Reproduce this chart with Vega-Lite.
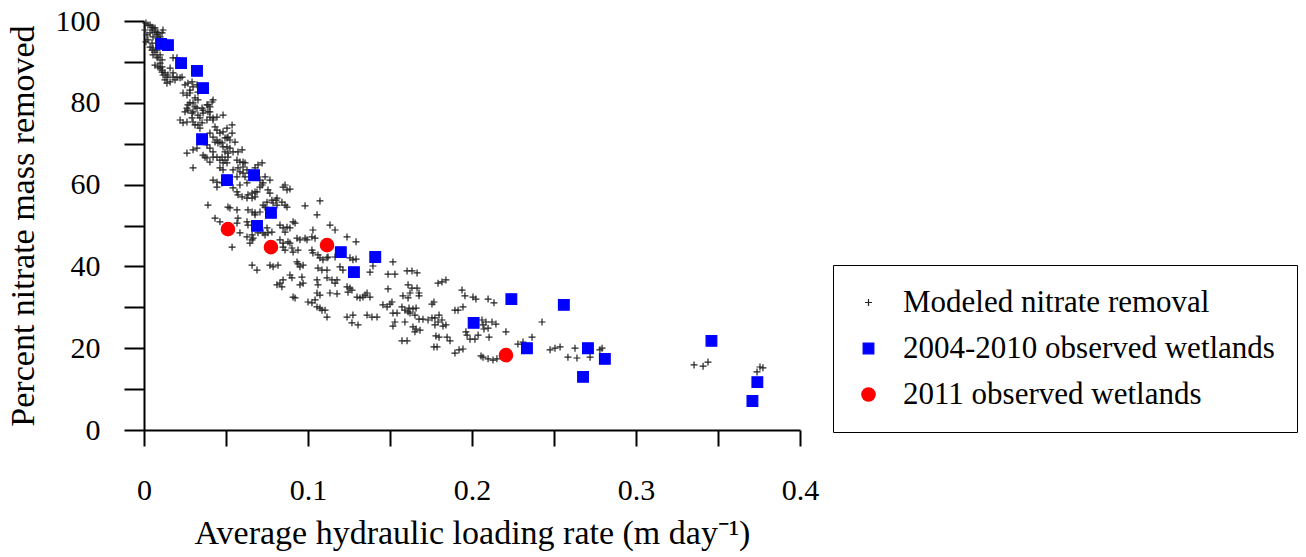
{
  "$schema": "https://vega.github.io/schema/vega-lite/v6.json",
  "width": 656,
  "height": 409,
  "autosize": {"type": "none"},
  "padding": {"left": 144, "top": 21, "right": 506, "bottom": 127},
  "background": "white",
  "config": {
    "view": {"stroke": null},
    "font": "Liberation Serif",
    "axis": {"labelFont": "Liberation Serif", "titleFont": "Liberation Serif", "labelColor": "black", "titleColor": "black", "titleFontWeight": "normal", "domainColor": "black", "tickColor": "black", "domainWidth": 2, "tickWidth": 2, "grid": false, "labelOverlap": false, "labelFlush": false}
  },
  "data": {"values": [
    {"x":0.0012,"y":99.5,"s":"m"},{"x":0.0024,"y":99.0,"s":"m"},{"x":0.0037,"y":99.0,"s":"m"},{"x":0.0049,"y":98.5,"s":"m"},{"x":0.0055,"y":98.3,"s":"m"},{"x":0.0067,"y":98.3,"s":"m"},{"x":0.0049,"y":97.8,"s":"m"},{"x":0.0037,"y":97.1,"s":"m"},{"x":0.0067,"y":97.3,"s":"m"},{"x":0.0079,"y":97.3,"s":"m"},{"x":0.0085,"y":97.1,"s":"m"},{"x":0.011,"y":97.1,"s":"m"},{"x":0.0116,"y":97.8,"s":"m"},{"x":0.0079,"y":96.6,"s":"m"},{"x":0.0098,"y":96.1,"s":"m"},{"x":0.0055,"y":96.1,"s":"m"},{"x":0.0085,"y":95.8,"s":"m"},{"x":0.0098,"y":95.4,"s":"m"},{"x":0.0049,"y":94.6,"s":"m"},{"x":0.0037,"y":93.6,"s":"m"},{"x":0.0049,"y":92.9,"s":"m"},{"x":0.0055,"y":93.4,"s":"m"},{"x":0.0067,"y":92.4,"s":"m"},{"x":0.0055,"y":91.7,"s":"m"},{"x":0.0079,"y":91.2,"s":"m"},{"x":0.0085,"y":91.0,"s":"m"},{"x":0.0098,"y":91.7,"s":"m"},{"x":0.011,"y":90.5,"s":"m"},{"x":0.0079,"y":92.9,"s":"m"},{"x":0.0098,"y":89.7,"s":"m"},{"x":0.0067,"y":89.2,"s":"m"},{"x":0.0085,"y":88.8,"s":"m"},{"x":0.0098,"y":88.5,"s":"m"},{"x":0.011,"y":88.8,"s":"m"},{"x":0.011,"y":88.0,"s":"m"},{"x":0.0128,"y":87.3,"s":"m"},{"x":0.014,"y":86.3,"s":"m"},{"x":0.0146,"y":86.8,"s":"m"},{"x":0.0116,"y":86.8,"s":"m"},{"x":0.0128,"y":85.6,"s":"m"},{"x":0.014,"y":84.8,"s":"m"},{"x":0.0159,"y":88.5,"s":"m"},{"x":0.0159,"y":85.1,"s":"m"},{"x":0.011,"y":87.5,"s":"m"},{"x":0.0018,"y":96.6,"s":"m"},{"x":0.0012,"y":94.9,"s":"m"},{"x":0.0024,"y":95.4,"s":"m"},{"x":0.0006,"y":97.8,"s":"m"},
    {"x":0.0177,"y":91.0,"s":"m"},{"x":0.0201,"y":91.0,"s":"m"},{"x":0.0177,"y":87.3,"s":"m"},{"x":0.0177,"y":86.3,"s":"m"},{"x":0.0201,"y":86.3,"s":"m"},{"x":0.022,"y":86.1,"s":"m"},{"x":0.0232,"y":86.3,"s":"m"},{"x":0.0189,"y":85.6,"s":"m"},{"x":0.025,"y":84.4,"s":"m"},{"x":0.0268,"y":84.8,"s":"m"},{"x":0.0293,"y":85.1,"s":"m"},{"x":0.0299,"y":83.9,"s":"m"},{"x":0.0323,"y":84.4,"s":"m"},{"x":0.0262,"y":81.9,"s":"m"},{"x":0.0238,"y":82.4,"s":"m"},{"x":0.028,"y":82.4,"s":"m"},{"x":0.028,"y":83.1,"s":"m"},{"x":0.0329,"y":82.6,"s":"m"},{"x":0.0311,"y":81.2,"s":"m"},{"x":0.0329,"y":80.7,"s":"m"},{"x":0.0268,"y":79.5,"s":"m"},{"x":0.028,"y":80.0,"s":"m"},{"x":0.0262,"y":78.7,"s":"m"},{"x":0.025,"y":77.8,"s":"m"},{"x":0.0299,"y":80.0,"s":"m"},{"x":0.0311,"y":79.0,"s":"m"},{"x":0.0323,"y":78.7,"s":"m"},{"x":0.0329,"y":77.0,"s":"m"},{"x":0.0341,"y":76.3,"s":"m"},{"x":0.0268,"y":78.2,"s":"m"},{"x":0.0293,"y":77.5,"s":"m"},{"x":0.022,"y":75.8,"s":"m"},{"x":0.0238,"y":75.1,"s":"m"},{"x":0.0262,"y":75.3,"s":"m"},{"x":0.0293,"y":76.3,"s":"m"},{"x":0.0299,"y":75.3,"s":"m"},{"x":0.0311,"y":74.6,"s":"m"},{"x":0.0329,"y":74.6,"s":"m"},{"x":0.0341,"y":73.8,"s":"m"},{"x":0.0299,"y":77.8,"s":"m"},{"x":0.0262,"y":67.7,"s":"m"},{"x":0.0299,"y":68.5,"s":"m"},{"x":0.0323,"y":68.9,"s":"m"},{"x":0.0299,"y":64.1,"s":"m"},
    {"x":0.0354,"y":78.7,"s":"m"},{"x":0.036,"y":78.2,"s":"m"},{"x":0.0384,"y":79.5,"s":"m"},{"x":0.0402,"y":79.0,"s":"m"},{"x":0.0402,"y":77.8,"s":"m"},{"x":0.0415,"y":80.2,"s":"m"},{"x":0.0421,"y":80.7,"s":"m"},{"x":0.0354,"y":75.1,"s":"m"},{"x":0.036,"y":77.5,"s":"m"},{"x":0.0384,"y":75.8,"s":"m"},{"x":0.039,"y":77.8,"s":"m"},{"x":0.0402,"y":76.5,"s":"m"},{"x":0.0421,"y":76.3,"s":"m"},{"x":0.0433,"y":74.1,"s":"m"},{"x":0.0445,"y":76.5,"s":"m"},{"x":0.0482,"y":77.0,"s":"m"},{"x":0.0445,"y":73.3,"s":"m"},{"x":0.0463,"y":72.6,"s":"m"},{"x":0.0482,"y":72.9,"s":"m"},{"x":0.0494,"y":71.4,"s":"m"},{"x":0.0512,"y":71.6,"s":"m"},{"x":0.0524,"y":70.9,"s":"m"},{"x":0.0433,"y":70.4,"s":"m"},{"x":0.0451,"y":70.2,"s":"m"},{"x":0.0476,"y":70.2,"s":"m"},{"x":0.0506,"y":69.2,"s":"m"},{"x":0.0524,"y":68.9,"s":"m"},{"x":0.0543,"y":68.0,"s":"m"},{"x":0.0512,"y":67.7,"s":"m"},{"x":0.0555,"y":70.4,"s":"m"},{"x":0.0402,"y":72.6,"s":"m"},{"x":0.0421,"y":71.6,"s":"m"},{"x":0.0445,"y":70.9,"s":"m"},{"x":0.0537,"y":74.6,"s":"m"},{"x":0.0537,"y":72.6,"s":"m"},{"x":0.0506,"y":73.8,"s":"m"},{"x":0.0384,"y":69.7,"s":"m"},{"x":0.0402,"y":68.9,"s":"m"},{"x":0.0421,"y":68.0,"s":"m"},{"x":0.0445,"y":66.7,"s":"m"},{"x":0.0476,"y":66.7,"s":"m"},{"x":0.0494,"y":66.0,"s":"m"},{"x":0.036,"y":67.2,"s":"m"},{"x":0.0384,"y":66.5,"s":"m"},{"x":0.0402,"y":65.5,"s":"m"},{"x":0.0482,"y":65.3,"s":"m"},{"x":0.0506,"y":65.3,"s":"m"},{"x":0.0421,"y":61.1,"s":"m"},{"x":0.0445,"y":60.6,"s":"m"},{"x":0.0476,"y":60.4,"s":"m"},{"x":0.0463,"y":64.1,"s":"m"},{"x":0.0482,"y":63.6,"s":"m"},{"x":0.0421,"y":66.7,"s":"m"},{"x":0.0482,"y":69.2,"s":"m"},{"x":0.0494,"y":68.0,"s":"m"},{"x":0.039,"y":55.0,"s":"m"},{"x":0.0512,"y":54.5,"s":"m"},{"x":0.0433,"y":51.8,"s":"m"},{"x":0.0463,"y":50.9,"s":"m"},{"x":0.0445,"y":59.4,"s":"m"},
    {"x":0.039,"y":79.5,"s":"m"},{"x":0.0421,"y":75.8,"s":"m"},{"x":0.0463,"y":70.4,"s":"m"},{"x":0.0506,"y":71.4,"s":"m"},{"x":0.0512,"y":66.7,"s":"m"},{"x":0.0463,"y":66.0,"s":"m"},{"x":0.0372,"y":66.7,"s":"m"},{"x":0.0524,"y":54.3,"s":"m"},
    {"x":0.0573,"y":68.0,"s":"m"},{"x":0.0598,"y":68.5,"s":"m"},{"x":0.0604,"y":65.5,"s":"m"},{"x":0.0567,"y":66.0,"s":"m"},{"x":0.0543,"y":63.6,"s":"m"},{"x":0.0567,"y":61.9,"s":"m"},{"x":0.0573,"y":64.1,"s":"m"},{"x":0.0585,"y":63.1,"s":"m"},{"x":0.0616,"y":61.9,"s":"m"},{"x":0.0628,"y":63.6,"s":"m"},{"x":0.0646,"y":62.8,"s":"m"},{"x":0.0689,"y":61.9,"s":"m"},{"x":0.0695,"y":64.8,"s":"m"},{"x":0.072,"y":65.3,"s":"m"},{"x":0.0677,"y":64.1,"s":"m"},{"x":0.0628,"y":60.4,"s":"m"},{"x":0.0585,"y":59.9,"s":"m"},{"x":0.0543,"y":59.2,"s":"m"},{"x":0.0567,"y":58.2,"s":"m"},{"x":0.0598,"y":57.0,"s":"m"},{"x":0.0634,"y":57.5,"s":"m"},{"x":0.0659,"y":57.9,"s":"m"},{"x":0.0567,"y":53.8,"s":"m"},{"x":0.0634,"y":53.8,"s":"m"},{"x":0.0659,"y":53.3,"s":"m"},{"x":0.0707,"y":53.3,"s":"m"},{"x":0.0573,"y":51.8,"s":"m"},{"x":0.0567,"y":50.6,"s":"m"},{"x":0.0628,"y":50.9,"s":"m"},{"x":0.0585,"y":48.2,"s":"m"},{"x":0.0628,"y":47.2,"s":"m"},{"x":0.0659,"y":47.7,"s":"m"},{"x":0.0695,"y":48.2,"s":"m"},{"x":0.0646,"y":45.7,"s":"m"},{"x":0.0537,"y":44.7,"s":"m"},{"x":0.0689,"y":58.2,"s":"m"},{"x":0.0677,"y":57.0,"s":"m"},{"x":0.0665,"y":46.9,"s":"m"},{"x":0.0659,"y":40.3,"s":"m"},{"x":0.0689,"y":39.1,"s":"m"},{"x":0.0707,"y":61.1,"s":"m"},{"x":0.0726,"y":60.4,"s":"m"},
    {"x":0.0585,"y":65.5,"s":"m"},{"x":0.0616,"y":65.3,"s":"m"},{"x":0.0604,"y":62.8,"s":"m"},{"x":0.0604,"y":64.3,"s":"m"},{"x":0.0573,"y":57.5,"s":"m"},{"x":0.0628,"y":56.7,"s":"m"},{"x":0.0677,"y":58.2,"s":"m"},{"x":0.0677,"y":53.1,"s":"m"},{"x":0.0634,"y":50.1,"s":"m"},{"x":0.0659,"y":56.7,"s":"m"},{"x":0.0677,"y":52.6,"s":"m"},{"x":0.0659,"y":46.5,"s":"m"},
    {"x":0.0738,"y":61.9,"s":"m"},{"x":0.0768,"y":61.1,"s":"m"},{"x":0.0707,"y":59.4,"s":"m"},{"x":0.0756,"y":58.7,"s":"m"},{"x":0.0768,"y":57.9,"s":"m"},{"x":0.0848,"y":59.4,"s":"m"},{"x":0.0872,"y":58.7,"s":"m"},{"x":0.075,"y":55.7,"s":"m"},{"x":0.0787,"y":55.5,"s":"m"},{"x":0.0811,"y":56.7,"s":"m"},{"x":0.0841,"y":55.7,"s":"m"},{"x":0.0726,"y":55.0,"s":"m"},{"x":0.086,"y":55.0,"s":"m"},{"x":0.075,"y":49.4,"s":"m"},{"x":0.078,"y":48.4,"s":"m"},{"x":0.0829,"y":50.1,"s":"m"},{"x":0.0872,"y":49.6,"s":"m"},{"x":0.0829,"y":46.5,"s":"m"},{"x":0.089,"y":45.7,"s":"m"},{"x":0.0726,"y":48.2,"s":"m"},{"x":0.0909,"y":50.9,"s":"m"},{"x":0.086,"y":48.4,"s":"m"},{"x":0.0933,"y":46.9,"s":"m"},{"x":0.0951,"y":46.5,"s":"m"},{"x":0.0902,"y":44.5,"s":"m"},{"x":0.0909,"y":43.5,"s":"m"},{"x":0.0939,"y":44.0,"s":"m"},{"x":0.0848,"y":44.7,"s":"m"},{"x":0.0933,"y":41.1,"s":"m"},{"x":0.0951,"y":39.9,"s":"m"},{"x":0.0817,"y":40.3,"s":"m"},{"x":0.0787,"y":39.9,"s":"m"},{"x":0.089,"y":37.9,"s":"m"},{"x":0.0848,"y":36.7,"s":"m"},{"x":0.0811,"y":35.5,"s":"m"},{"x":0.0841,"y":35.0,"s":"m"},{"x":0.0909,"y":32.5,"s":"m"},
    {"x":0.072,"y":59.9,"s":"m"},{"x":0.086,"y":59.9,"s":"m"},{"x":0.089,"y":58.9,"s":"m"},{"x":0.078,"y":56.2,"s":"m"},{"x":0.0805,"y":56.2,"s":"m"},{"x":0.0811,"y":55.0,"s":"m"},{"x":0.0738,"y":54.5,"s":"m"},{"x":0.0872,"y":54.5,"s":"m"},{"x":0.0756,"y":48.2,"s":"m"},{"x":0.089,"y":49.4,"s":"m"},{"x":0.0848,"y":45.7,"s":"m"},{"x":0.0738,"y":47.7,"s":"m"},{"x":0.0921,"y":50.6,"s":"m"},{"x":0.0848,"y":49.4,"s":"m"},{"x":0.0878,"y":46.0,"s":"m"},{"x":0.086,"y":44.0,"s":"m"},{"x":0.0939,"y":40.6,"s":"m"},{"x":0.0768,"y":40.3,"s":"m"},{"x":0.0902,"y":37.2,"s":"m"},{"x":0.0829,"y":35.9,"s":"m"},{"x":0.0921,"y":32.3,"s":"m"},
    {"x":0.0982,"y":54.8,"s":"m"},{"x":0.1073,"y":56.0,"s":"m"},{"x":0.1055,"y":52.6,"s":"m"},{"x":0.097,"y":40.3,"s":"m"},{"x":0.0982,"y":46.9,"s":"m"},{"x":0.1024,"y":47.2,"s":"m"},{"x":0.103,"y":48.9,"s":"m"},{"x":0.1024,"y":44.0,"s":"m"},{"x":0.1061,"y":42.8,"s":"m"},{"x":0.1091,"y":41.6,"s":"m"},{"x":0.1122,"y":42.3,"s":"m"},{"x":0.1165,"y":42.3,"s":"m"},{"x":0.1061,"y":39.6,"s":"m"},{"x":0.1085,"y":39.1,"s":"m"},{"x":0.1177,"y":36.7,"s":"m"},{"x":0.0963,"y":37.4,"s":"m"},{"x":0.097,"y":35.9,"s":"m"},{"x":0.1055,"y":36.7,"s":"m"},{"x":0.1116,"y":37.2,"s":"m"},{"x":0.1165,"y":35.9,"s":"m"},{"x":0.1055,"y":33.5,"s":"m"},{"x":0.1134,"y":33.5,"s":"m"},{"x":0.1,"y":31.3,"s":"m"},{"x":0.1043,"y":31.8,"s":"m"},{"x":0.1055,"y":30.1,"s":"m"},{"x":0.1085,"y":29.3,"s":"m"},{"x":0.1116,"y":27.6,"s":"m"},{"x":0.1134,"y":50.1,"s":"m"},{"x":0.1165,"y":48.9,"s":"m"},{"x":0.1195,"y":39.9,"s":"m"},
    {"x":0.0994,"y":46.5,"s":"m"},{"x":0.1043,"y":46.9,"s":"m"},{"x":0.103,"y":43.3,"s":"m"},{"x":0.1073,"y":42.1,"s":"m"},{"x":0.1116,"y":42.1,"s":"m"},{"x":0.1116,"y":39.1,"s":"m"},{"x":0.0951,"y":35.5,"s":"m"},{"x":0.1061,"y":35.5,"s":"m"},{"x":0.1146,"y":36.7,"s":"m"},{"x":0.1073,"y":33.0,"s":"m"},{"x":0.1177,"y":33.3,"s":"m"},{"x":0.1024,"y":31.1,"s":"m"},{"x":0.1073,"y":29.8,"s":"m"},{"x":0.1104,"y":29.3,"s":"m"},
    {"x":0.1238,"y":47.2,"s":"m"},{"x":0.1293,"y":46.0,"s":"m"},{"x":0.1256,"y":42.1,"s":"m"},{"x":0.1238,"y":35.0,"s":"m"},{"x":0.1268,"y":34.2,"s":"m"},{"x":0.1299,"y":32.5,"s":"m"},{"x":0.1348,"y":33.0,"s":"m"},{"x":0.1378,"y":32.5,"s":"m"},{"x":0.1238,"y":27.6,"s":"m"},{"x":0.136,"y":28.1,"s":"m"},{"x":0.139,"y":27.6,"s":"m"},{"x":0.1396,"y":40.1,"s":"m"},{"x":0.1378,"y":38.6,"s":"m"},{"x":0.136,"y":33.5,"s":"m"},{"x":0.1274,"y":28.1,"s":"m"},{"x":0.1268,"y":26.2,"s":"m"},{"x":0.1305,"y":25.7,"s":"m"},{"x":0.1421,"y":27.6,"s":"m"},{"x":0.1457,"y":30.6,"s":"m"},{"x":0.15,"y":30.8,"s":"m"},{"x":0.1488,"y":34.5,"s":"m"},{"x":0.1488,"y":38.1,"s":"m"},{"x":0.153,"y":38.1,"s":"m"},{"x":0.1518,"y":41.1,"s":"m"},{"x":0.1518,"y":28.6,"s":"m"},{"x":0.153,"y":26.4,"s":"m"},
    {"x":0.1213,"y":39.1,"s":"m"},{"x":0.1274,"y":41.6,"s":"m"},{"x":0.1293,"y":41.8,"s":"m"},{"x":0.1256,"y":34.7,"s":"m"},{"x":0.1244,"y":33.7,"s":"m"},{"x":0.1317,"y":32.3,"s":"m"},{"x":0.1335,"y":32.5,"s":"m"},{"x":0.1482,"y":30.1,"s":"m"},{"x":0.1512,"y":31.3,"s":"m"},{"x":0.1518,"y":25.4,"s":"m"},{"x":0.1543,"y":28.6,"s":"m"},
    {"x":0.1573,"y":30.1,"s":"m"},{"x":0.161,"y":28.9,"s":"m"},{"x":0.164,"y":29.6,"s":"m"},{"x":0.1652,"y":28.1,"s":"m"},{"x":0.1591,"y":26.4,"s":"m"},{"x":0.1579,"y":32.8,"s":"m"},{"x":0.1677,"y":32.8,"s":"m"},{"x":0.1604,"y":38.9,"s":"m"},{"x":0.1665,"y":38.4,"s":"m"},{"x":0.161,"y":35.5,"s":"m"},{"x":0.1665,"y":34.7,"s":"m"},{"x":0.1622,"y":33.5,"s":"m"},{"x":0.164,"y":25.2,"s":"m"},{"x":0.1683,"y":24.4,"s":"m"},{"x":0.1677,"y":27.1,"s":"m"},{"x":0.1732,"y":26.9,"s":"m"},{"x":0.1774,"y":27.4,"s":"m"},{"x":0.1799,"y":28.1,"s":"m"},{"x":0.1817,"y":26.9,"s":"m"},{"x":0.1823,"y":25.4,"s":"m"},{"x":0.1774,"y":25.7,"s":"m"},{"x":0.1756,"y":30.8,"s":"m"},{"x":0.1793,"y":35.9,"s":"m"},{"x":0.1841,"y":36.7,"s":"m"},{"x":0.178,"y":23.0,"s":"m"},{"x":0.1848,"y":22.7,"s":"m"},{"x":0.1866,"y":21.8,"s":"m"},{"x":0.1787,"y":20.3,"s":"m"},{"x":0.1573,"y":21.8,"s":"m"},{"x":0.1604,"y":21.8,"s":"m"},{"x":0.1896,"y":18.8,"s":"m"},{"x":0.1921,"y":19.6,"s":"m"},{"x":0.1896,"y":29.3,"s":"m"},{"x":0.1652,"y":24.0,"s":"m"},
    {"x":0.1591,"y":29.3,"s":"m"},{"x":0.1616,"y":29.8,"s":"m"},{"x":0.1659,"y":29.8,"s":"m"},{"x":0.1622,"y":28.6,"s":"m"},{"x":0.161,"y":32.3,"s":"m"},{"x":0.1634,"y":38.9,"s":"m"},{"x":0.1634,"y":34.7,"s":"m"},{"x":0.1677,"y":33.5,"s":"m"},{"x":0.1659,"y":24.7,"s":"m"},{"x":0.1701,"y":27.1,"s":"m"},{"x":0.1756,"y":27.4,"s":"m"},{"x":0.1793,"y":26.4,"s":"m"},{"x":0.1841,"y":25.7,"s":"m"},{"x":0.1768,"y":31.3,"s":"m"},{"x":0.1817,"y":36.2,"s":"m"},{"x":0.1799,"y":22.7,"s":"m"},{"x":0.1768,"y":20.3,"s":"m"},{"x":0.1915,"y":29.3,"s":"m"},
    {"x":0.1939,"y":34.2,"s":"m"},{"x":0.1957,"y":32.8,"s":"m"},{"x":0.2006,"y":32.5,"s":"m"},{"x":0.2098,"y":32.0,"s":"m"},{"x":0.2134,"y":31.1,"s":"m"},{"x":0.1945,"y":30.1,"s":"m"},{"x":0.2061,"y":26.9,"s":"m"},{"x":0.2122,"y":26.4,"s":"m"},{"x":0.2146,"y":25.9,"s":"m"},{"x":0.2073,"y":24.7,"s":"m"},{"x":0.1963,"y":24.0,"s":"m"},{"x":0.1988,"y":22.2,"s":"m"},{"x":0.2037,"y":23.2,"s":"m"},{"x":0.2104,"y":22.7,"s":"m"},{"x":0.2207,"y":24.0,"s":"m"},{"x":0.1945,"y":19.8,"s":"m"},{"x":0.2055,"y":18.1,"s":"m"},{"x":0.2098,"y":17.4,"s":"m"},{"x":0.2152,"y":17.4,"s":"m"},{"x":0.228,"y":21.0,"s":"m"},{"x":0.2427,"y":26.4,"s":"m"},{"x":0.2366,"y":22.7,"s":"m"},{"x":0.2311,"y":21.5,"s":"m"},{"x":0.2476,"y":19.6,"s":"m"},{"x":0.2537,"y":20.3,"s":"m"},{"x":0.2585,"y":17.8,"s":"m"},{"x":0.264,"y":17.6,"s":"m"},{"x":0.2628,"y":20.0,"s":"m"},{"x":0.272,"y":17.8,"s":"m"},{"x":0.278,"y":19.6,"s":"m"},{"x":0.2067,"y":25.7,"s":"m"},
    {"x":0.2024,"y":32.0,"s":"m"},{"x":0.2085,"y":26.4,"s":"m"},{"x":0.2098,"y":24.9,"s":"m"},{"x":0.197,"y":23.2,"s":"m"},{"x":0.2018,"y":22.2,"s":"m"},{"x":0.2067,"y":17.8,"s":"m"},{"x":0.2128,"y":17.1,"s":"m"},{"x":0.2506,"y":20.0,"s":"m"},{"x":0.2793,"y":20.0,"s":"m"},
    {"x":0.3354,"y":15.9,"s":"m"},{"x":0.3409,"y":15.6,"s":"m"},{"x":0.3439,"y":16.6,"s":"m"},{"x":0.3738,"y":14.2,"s":"m"},{"x":0.3756,"y":15.4,"s":"m"},{"x":0.3774,"y":15.2,"s":"m"},
    {"x":0.0104,"y":94.4,"s":"b"},{"x":0.0146,"y":94.1,"s":"b"},{"x":0.0226,"y":89.7,"s":"b"},{"x":0.0323,"y":87.8,"s":"b"},{"x":0.036,"y":83.6,"s":"b"},{"x":0.0354,"y":71.1,"s":"b"},{"x":0.0506,"y":61.1,"s":"b"},{"x":0.0671,"y":62.3,"s":"b"},{"x":0.0689,"y":49.9,"s":"b"},{"x":0.0774,"y":53.1,"s":"b"},{"x":0.12,"y":43.5,"s":"b"},{"x":0.128,"y":38.6,"s":"b"},{"x":0.141,"y":42.3,"s":"b"},{"x":0.201,"y":26.2,"s":"b"},{"x":0.224,"y":32.0,"s":"b"},{"x":0.2335,"y":20.0,"s":"b"},{"x":0.256,"y":30.6,"s":"b"},{"x":0.2677,"y":13.0,"s":"b"},{"x":0.2707,"y":20.0,"s":"b"},{"x":0.281,"y":17.4,"s":"b"},{"x":0.346,"y":21.8,"s":"b"},{"x":0.371,"y":7.1,"s":"b"},{"x":0.374,"y":11.7,"s":"b"},
    {"x":0.0512,"y":49.1,"s":"r"},{"x":0.0774,"y":44.7,"s":"r"},{"x":0.1116,"y":45.2,"s":"r"},{"x":0.2207,"y":18.3,"s":"r"}
  ]},
  "mark": {"type": "point", "strokeWidth": 1.2, "opacity": 1},
  "encoding": {
    "x": {
      "field": "x", "type": "quantitative",
      "scale": {"domain": [0, 0.4], "nice": false, "zero": false},
      "axis": {
        "title": "Average hydraulic loading rate (m day⁻¹)",
        "values": [0, 0.05, 0.1, 0.15, 0.2, 0.25, 0.3, 0.35, 0.4],
        "labelExpr": "abs(datum.value*10 - round(datum.value*10)) < 0.001 ? (datum.value == 0 ? '0' : format(datum.value, '.1f')) : ''",
        "tickSize": 16, "labelFontSize": 30, "labelPadding": 29, "titleFontSize": 34, "titlePadding": 11,
        "encode": {"ticks": {"update": {"y2": {"signal": "abs(datum.value*10 - round(datum.value*10)) < 0.001 ? 16 : 8"}}}}
      }
    },
    "y": {
      "field": "y", "type": "quantitative",
      "scale": {"domain": [0, 100], "nice": false, "zero": true},
      "axis": {
        "title": "Percent nitrate mass removed",
        "values": [0, 10, 20, 30, 40, 50, 60, 70, 80, 90, 100],
        "labelExpr": "datum.value % 20 == 0 ? datum.label : ''",
        "tickSize": 20, "labelFontSize": 30, "labelPadding": 24, "titleFontSize": 34, "titlePadding": 15,
        "encode": {"ticks": {"update": {"x2": {"signal": "datum.value % 20 == 0 ? -20 : -10"}}}}
      }
    },
    "shape": {
      "field": "s", "type": "nominal",
      "scale": {"domain": ["m", "b", "r"], "range": ["M-1,0L1,0M0,-1L0,1", "square", "circle"]},
      "legend": {"title": null, "orient": "none", "legendX": 689, "legendY": 244, "padding": 22, "rowPadding": 14, "symbolOffset": -2, "labelOffset": 19, "labelFont": "Liberation Serif", "labelFontSize": 31, "labelColor": "black", "labelLimit": 800, "symbolStrokeWidth": 1.2, "strokeColor": "black", "labelExpr": "datum.label == 'm' ? 'Modeled nitrate removal' : datum.label == 'b' ? '2004-2010 observed wetlands' : '2011 observed wetlands'", "encode": {"legend": {"update": {"strokeWidth": {"value": 2}}}}}
    },
    "fill": {
      "field": "s", "type": "nominal",
      "scale": {"domain": ["m", "b", "r"], "range": ["transparent", "#0000ff", "#ff0000"]},
      "legend": {"title": null, "orient": "none", "legendX": 689, "legendY": 244, "padding": 22, "rowPadding": 14, "symbolOffset": -2, "labelOffset": 19, "labelFont": "Liberation Serif", "labelFontSize": 31, "labelColor": "black", "labelLimit": 800, "symbolStrokeWidth": 1.2, "strokeColor": "black", "labelExpr": "datum.label == 'm' ? 'Modeled nitrate removal' : datum.label == 'b' ? '2004-2010 observed wetlands' : '2011 observed wetlands'", "encode": {"legend": {"update": {"strokeWidth": {"value": 2}}}}}
    },
    "stroke": {
      "field": "s", "type": "nominal",
      "scale": {"domain": ["m", "b", "r"], "range": ["#222222", "#0000ff", "#ff0000"]},
      "legend": {"title": null, "orient": "none", "legendX": 689, "legendY": 244, "padding": 22, "rowPadding": 14, "symbolOffset": -2, "labelOffset": 19, "labelFont": "Liberation Serif", "labelFontSize": 31, "labelColor": "black", "labelLimit": 800, "symbolStrokeWidth": 1.2, "strokeColor": "black", "labelExpr": "datum.label == 'm' ? 'Modeled nitrate removal' : datum.label == 'b' ? '2004-2010 observed wetlands' : '2011 observed wetlands'", "encode": {"legend": {"update": {"strokeWidth": {"value": 2}}}}}
    },
    "size": {
      "field": "s", "type": "nominal",
      "scale": {"domain": ["m", "b", "r"], "range": [49, 180, 210]},
      "legend": {"title": null, "orient": "none", "legendX": 689, "legendY": 244, "padding": 22, "rowPadding": 14, "symbolOffset": -2, "labelOffset": 19, "labelFont": "Liberation Serif", "labelFontSize": 31, "labelColor": "black", "labelLimit": 800, "symbolStrokeWidth": 1.2, "strokeColor": "black", "labelExpr": "datum.label == 'm' ? 'Modeled nitrate removal' : datum.label == 'b' ? '2004-2010 observed wetlands' : '2011 observed wetlands'", "encode": {"legend": {"update": {"strokeWidth": {"value": 2}}}}}
    }
  }
}
